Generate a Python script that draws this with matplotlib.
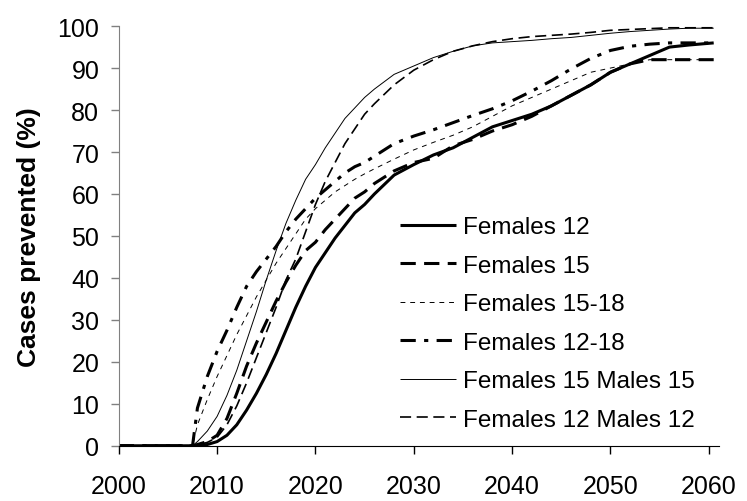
import matplotlib
matplotlib.use("Agg")
import matplotlib.pyplot as plt

plt.rcParams['font.family'] = ['Liberation Sans', 'DejaVu Sans']
plt.rcParams['lines.scale_dashes'] = False

years = [2000, 2007.5, 2008, 2009, 2010, 2011, 2012, 2013, 2014, 2015, 2016, 2017,
         2018, 2019, 2020, 2021, 2022, 2023, 2024, 2025, 2026, 2028, 2030, 2032,
         2034, 2036, 2038, 2040, 2042, 2044, 2046, 2048, 2050, 2052, 2054, 2056,
         2058, 2060.5]

females_12 = [0, 0, 0.1, 0.3, 1, 2.5, 5, 8.5, 12.5, 17, 22, 27.5,
              33, 38, 42.5, 46, 49.5, 52.5, 55.5, 57.5, 60, 64.5, 67, 69.3,
              71, 73.5, 76, 77.5, 79, 81, 83.5, 86, 89, 91, 93, 95,
              95.5, 96]
females_15 = [0, 0, 0.3, 1, 2.5, 6.5, 12.5, 19, 24.5, 29.5, 34.5, 39,
              43, 46.5, 48.5, 51.5, 54, 56.5, 59, 60.5, 62.5, 65.5, 67.5, 68.5,
              71.5, 73, 75, 76.5, 78.5, 81, 83.5, 86, 89, 91, 92, 92,
              92, 92]
females_15_18 = [0, 0, 5, 11, 16.5, 21.5, 26.5, 31, 35.5, 39.5, 43.5, 47,
                 50.5, 54, 56.5, 58.5, 60.5, 62, 63.5, 64.8, 66, 68.3, 70.5, 72.3,
                 74, 76, 78.5, 81, 83, 85, 87, 89, 90, 91, 92, 92,
                 92, 92]
females_12_18 = [0, 0, 9, 16.5, 22.5, 27.5, 33, 38, 41.5, 44.5, 47.5, 51,
                 54, 56.5, 59, 61, 63, 65, 66.5, 67.5, 69, 72, 73.8, 75.3,
                 77, 78.7, 80.3, 82.2, 84.5, 87, 89.8, 92.3, 94.2, 95.2, 95.7, 96,
                 96, 96]
f15_m15 = [0, 0, 1, 3.5, 7, 12, 18, 25, 32, 39.5, 46.5, 53,
           58.5, 63.5, 67, 71, 74.5, 78, 80.5, 83, 85, 88.5, 90.5, 92.5,
           94, 95.3, 96, 96.3, 96.6, 97, 97.3, 97.8, 98.3, 98.7, 99, 99.3,
           99.5, 99.5]
f12_m12 = [0, 0, 0.2, 0.8, 2, 5, 9.5, 15, 21, 27, 33, 39.5,
           44.5, 51, 57.5, 63, 67.5, 72, 75.5, 79, 81.5, 86, 89.5, 92,
           94, 95.3, 96.3, 97, 97.5, 97.8, 98.1, 98.5, 99, 99.2, 99.4, 99.6,
           99.6, 99.6]

labels = ["Females 12", "Females 15", "Females 15-18", "Females 12-18",
          "Females 15 Males 15", "Females 12 Males 12"]
xticks = [2000, 2010, 2020, 2030, 2040, 2050, 2060]
yticks = [0, 10, 20, 30, 40, 50, 60, 70, 80, 90, 100]

fig = plt.figure(figsize=(7.47, 5.02), dpi=100)
ax = fig.add_axes([0.159, 0.11, 0.803, 0.836])

series = [females_12, females_15, females_15_18, females_12_18, f15_m15, f12_m12]
styles = [
    dict(lw=2.2, ls='-'),
    dict(lw=2.2, dashes=(11, 6)),
    dict(lw=0.7, dashes=(3.5, 3.5)),
    dict(lw=2.2, dashes=(11, 6, 3, 6)),
    dict(lw=0.7, ls='-'),
    dict(lw=1.2, dashes=(8, 4)),
]
handles = []
for vals, st, lab in zip(series, styles, labels):
    h, = ax.plot(years, vals, color='black', label=lab, solid_capstyle='butt',
                 dash_capstyle='butt', **st)
    handles.append(h)

ax.set_xlim(2000, 2061)
ax.set_ylim(0, 100)
ax.set_xticks(xticks)
ax.set_yticks(yticks)
ax.tick_params(axis='x', direction='out', length=6, width=1, pad=14,
               labelsize=18, colors='black')
ax.tick_params(axis='y', direction='out', length=6, width=1, pad=8,
               labelsize=18, colors='black')
ax.tick_params(axis='y', color='#808080')
for s in ['top', 'right']:
    ax.spines[s].set_visible(False)
ax.spines['left'].set_color('#808080')
ax.spines['bottom'].set_color('black')
ax.set_ylabel('Cases prevented (%)', fontsize=19, fontweight='bold', labelpad=12)

leg = ax.legend(handles=handles, loc='upper left', bbox_to_anchor=(400 / 747, 1 - 217 / 502),
                bbox_transform=fig.transFigure, frameon=False, fontsize=17.5,
                borderpad=0, borderaxespad=0, handlelength=2.3, handletextpad=0.3,
                labelspacing=0.68)

fig.savefig('out.png', dpi=100)
